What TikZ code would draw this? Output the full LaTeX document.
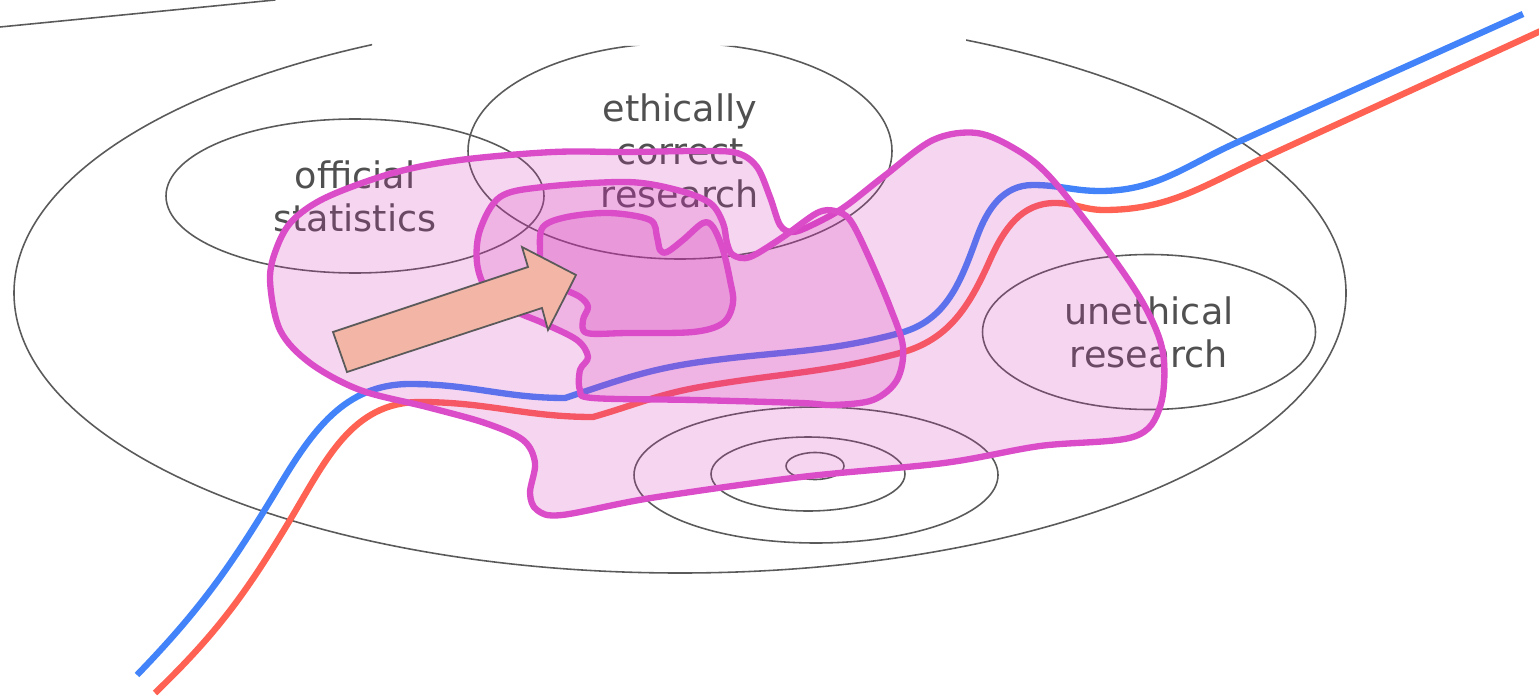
\documentclass[tikz,border=0pt]{standalone}
\usepackage{fontspec}
\setmainfont{DejaVu Sans}
\usetikzlibrary{shapes.geometric}
\definecolor{ringgray}{RGB}{90,90,90}
\definecolor{labelgray}{RGB}{80,80,80}
\definecolor{pathblue}{RGB}{66,131,250}
\definecolor{pathred}{RGB}{255,98,82}
\definecolor{zonemagenta}{RGB}{218,76,200}
\definecolor{zonefill}{RGB}{210,45,180}
\definecolor{arrowsalmon}{RGB}{243,182,166}

\begin{document}
\begin{tikzpicture}[line cap=round,line join=round,
  ring/.style={draw=ringgray,line width=0.45pt},
  field/.style={ring,ellipse,inner sep=0pt,text=labelgray,align=center,font=\fontsize{10.4}{12.3}\selectfont},
  trail/.style={line width=1.8pt,line cap=butt},
  zone/.style={fill=zonefill,fill opacity=0.2,draw=zonemagenta,line width=1.8pt}]
  \useasboundingbox (0,0) rectangle (15.39,-6.96);
  \draw[ring] (0,-0.27) -- (2.75,0);
  \begin{scope}
    \clip (0,0) -- (3.72,0) -- (3.72,-0.46) -- (9.66,-0.46) -- (9.66,0) -- (15.39,0) -- (15.39,-6.96) -- (0,-6.96) -- cycle;
    \draw[ring] (6.80,-2.93) ellipse [x radius=6.66,y radius=2.80];
    \node[field,minimum width=3.78cm,minimum height=1.54cm] (official) at (3.55,-1.96) {official\\statistics};
    \node[field,minimum width=4.24cm,minimum height=2.16cm] (ethical) at (6.80,-1.51) {ethically\\correct\\research};
    \node[field,minimum width=3.33cm,minimum height=1.55cm] (unethical) at (11.49,-3.32) {unethical\\research};
  \end{scope}
  \draw[ring] (8.16,-4.75) ellipse [x radius=1.82,y radius=0.68];
  \draw[ring] (8.08,-4.74) ellipse [x radius=0.97,y radius=0.37];
  \draw[ring] (8.15,-4.66) ellipse [x radius=0.29,y radius=0.135];
  \draw[trail,pathblue] (1.37,-6.75) to[out=46,in=239] (2.78,-4.88) to[out=59,in=180] (4.10,-3.84)
    to[out=0,in=180] (5.65,-3.98) to[out=18,in=188] (7.00,-3.62) to[out=8,in=195] (9.00,-3.33)
    to[out=15,in=250] (9.77,-2.37) to[out=70,in=180] (10.33,-1.85) to[out=0,in=180] (11.00,-1.91)
    to[out=0,in=204] (12.38,-1.42) -- (15.23,-0.14);
  \draw[trail,pathred] (1.55,-6.93) to[out=44,in=239] (2.90,-5.20) to[out=59,in=180] (4.20,-4.02)
    to[out=0,in=180] (5.93,-4.17) to[out=16,in=190] (7.00,-3.87) to[out=10,in=195] (9.00,-3.53)
    to[out=15,in=246] (9.90,-2.60) to[out=66,in=180] (10.55,-2.03) to[out=0,in=180] (11.04,-2.10)
    to[out=0,in=205] (12.59,-1.60) -- (15.45,-0.29);
  \draw[zone] plot[smooth cycle,tension=0.55] coordinates {(4.60,-1.60) (5.53,-1.52) (6.27,-1.52) (7.00,-1.51) (7.37,-1.53) (7.57,-1.67) (7.70,-1.97) (7.80,-2.25) (7.92,-2.32) (8.10,-2.26) (8.43,-2.08) (8.83,-1.77) (9.33,-1.40) (9.77,-1.33) (10.17,-1.50) (10.50,-1.77) (11.00,-2.40) (11.43,-3.03) (11.63,-3.53) (11.60,-4.07) (11.33,-4.37) (10.40,-4.46) (9.44,-4.63) (8.01,-4.77) (6.51,-4.98) (5.62,-5.15) (5.37,-5.10) (5.30,-4.93) (5.35,-4.63) (5.23,-4.40) (4.85,-4.23) (4.27,-4.07) (3.60,-3.90) (3.10,-3.63) (2.80,-3.30) (2.70,-2.80) (2.77,-2.47) (2.93,-2.20) (3.27,-1.97) (3.93,-1.73)};
  \draw[zone] plot[smooth cycle,tension=0.55] coordinates {(4.80,-2.30) (5.00,-1.97) (5.43,-1.87) (6.27,-1.82) (6.77,-1.90) (7.10,-2.03) (7.23,-2.23) (7.27,-2.43) (7.33,-2.55) (7.50,-2.57) (7.83,-2.37) (8.17,-2.13) (8.35,-2.11) (8.50,-2.20) (8.67,-2.53) (8.90,-3.07) (9.03,-3.47) (8.97,-3.80) (8.73,-4.00) (8.33,-4.05) (8.01,-4.03) (6.94,-4.00) (5.93,-3.98) (5.80,-3.90) (5.80,-3.70) (5.88,-3.57) (5.77,-3.40) (5.43,-3.23) (5.13,-3.10) (4.87,-2.90) (4.77,-2.63)};
  \draw[zone] plot[smooth cycle,tension=0.55] coordinates {(5.43,-2.27) (5.67,-2.17) (6.10,-2.13) (6.50,-2.20) (6.57,-2.37) (6.60,-2.50) (6.67,-2.52) (6.83,-2.40) (7.03,-2.23) (7.13,-2.27) (7.23,-2.50) (7.30,-2.80) (7.33,-3.03) (7.23,-3.23) (6.93,-3.32) (6.27,-3.33) (5.87,-3.33) (5.83,-3.20) (5.88,-3.07) (5.80,-2.97) (5.60,-2.87) (5.43,-2.73) (5.40,-2.50)};
  \draw[draw=ringgray,fill=arrowsalmon,line width=0.5pt,line join=miter] (3.33,-3.32) -- (5.28,-2.67) -- (5.22,-2.47) -- (5.76,-2.75) -- (5.48,-3.30) -- (5.42,-3.08) -- (3.47,-3.72) -- cycle;
\end{tikzpicture}
\end{document}
